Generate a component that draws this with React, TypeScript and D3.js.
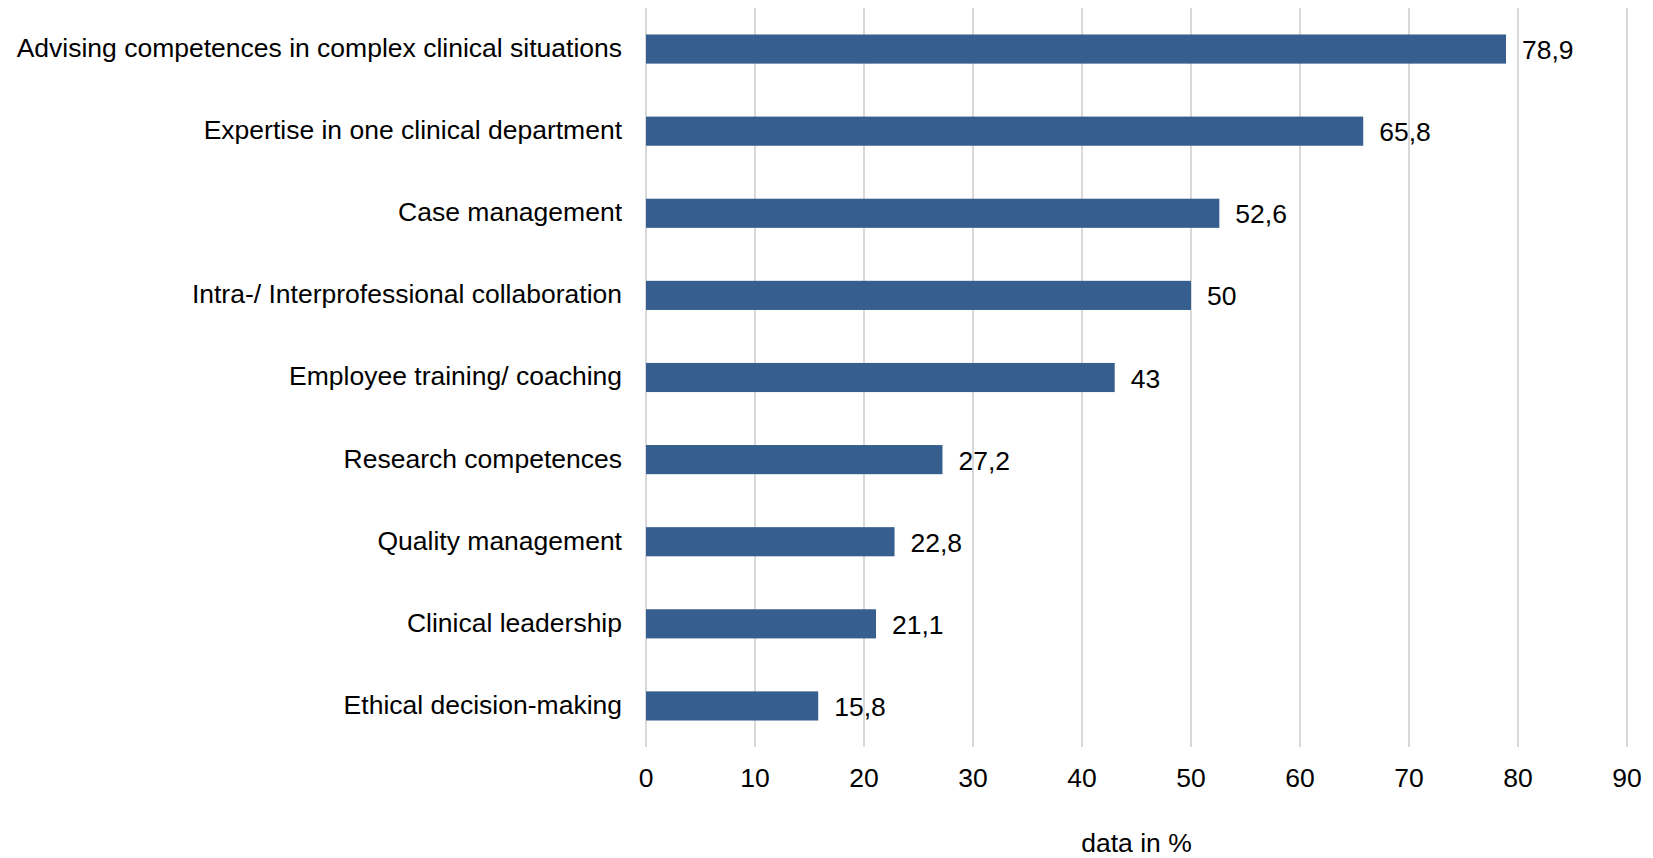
import React from "react";
import { scaleLinear, scaleBand, range } from "d3";

const categories = [
  "Advising competences in complex clinical situations",
  "Expertise in one clinical department",
  "Case management",
  "Intra-/ Interprofessional collaboration",
  "Employee training/ coaching",
  "Research competences",
  "Quality management",
  "Clinical leadership",
  "Ethical decision-making"
];
const values = [78.9, 65.8, 52.6, 50, 43, 27.2, 22.8, 21.1, 15.8];
const valueLabels = ["78,9", "65,8", "52,6", "50", "43", "27,2", "22,8", "21,1", "15,8"];
const xTicks = range(0, 100, 10);
const axisTitle = "data in %";

const W = 1653;
const H = 858;
const left = 646;
const right = 1627;
const top = 8;
const bottom = 747;
const font = "Liberation Sans, Arial, sans-serif";
const fs = 26.5;

export default function App() {
  const x = scaleLinear().domain([0, 90]).range([left, right]);
  const y = scaleBand<string>()
    .domain(categories)
    .range([top, bottom])
    .paddingInner(0.645)
    .paddingOuter(0.3225);

  return (
    <svg
      width={W}
      height={H}
      style={{ position: "absolute", left: 0, top: 0, background: "#fff" }}
      fontFamily={font}
    >
      {xTicks.map(t => (
        <line
          key={t}
          x1={x(t)}
          x2={x(t)}
          y1={top}
          y2={bottom}
          stroke="#d9d9d9"
          strokeWidth={2}
        />
      ))}
      {categories.map((c, i) => (
        <g key={c}>
          <rect
            x={x(0)}
            y={y(c)}
            width={x(values[i]) - x(0)}
            height={y.bandwidth()}
            fill="#365f8f"
          />
          <text
            x={left - 24}
            y={(y(c) as number) + y.bandwidth() / 2}
            dy="0.3em"
            textAnchor="end"
            fontSize={fs}
            fill="#000"
          >
            {c}
          </text>
          <text
            x={x(values[i]) + 16}
            y={(y(c) as number) + y.bandwidth() / 2}
            dy="0.38em"
            fontSize={fs}
            fill="#000"
          >
            {valueLabels[i]}
          </text>
        </g>
      ))}
      {xTicks.map(t => (
        <text
          key={t}
          x={x(t)}
          y={778}
          dy="0.35em"
          textAnchor="middle"
          fontSize={fs}
          fill="#000"
        >
          {t}
        </text>
      ))}
      <text
        x={(left + right) / 2}
        y={843}
        dy="0.35em"
        textAnchor="middle"
        fontSize={fs}
        fill="#000"
      >
        {axisTitle}
      </text>
    </svg>
  );
}
